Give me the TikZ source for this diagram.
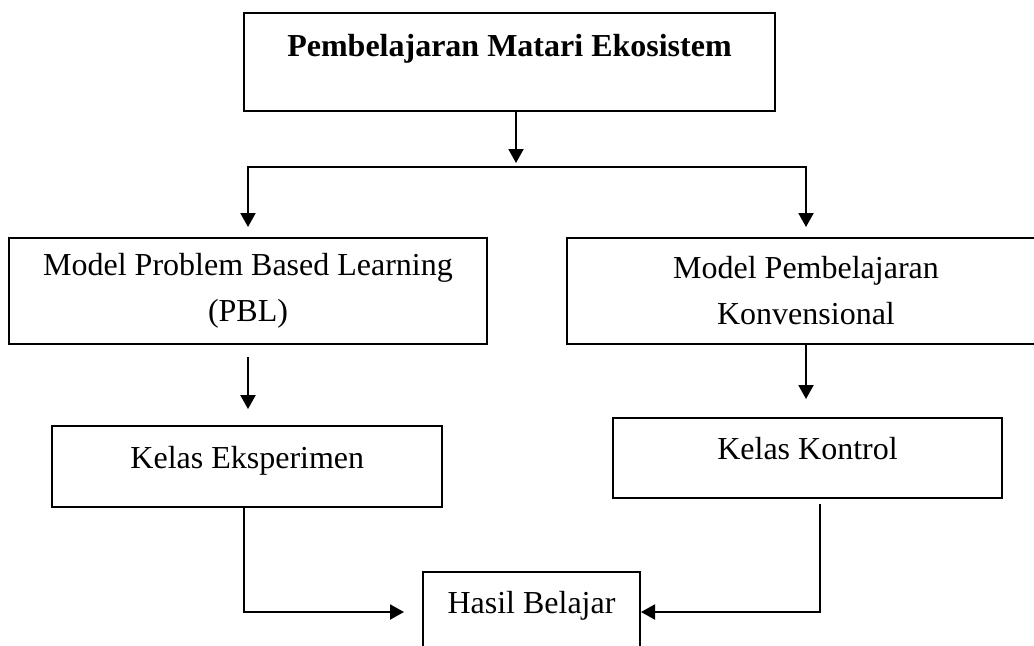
\documentclass[tikz,border=0pt]{standalone}
\usepackage{fontspec}
\setmainfont{Liberation Serif}
\usetikzlibrary{arrows.meta}
\tikzset{
  flowBox/.style={draw, line width=1pt, inner sep=0pt, align=center, font=\fontsize{16}{23}\selectfont},
  flowArrow/.style={line width=1pt, -{Triangle[length=7pt,width=7.5pt]}}
}

\begin{document}
\begin{tikzpicture}[x=0.5pt,y=-0.5pt]
  \useasboundingbox (0,0) rectangle (1034,645);
  \clip (0,0) rectangle (1034,645);
  \node[flowBox, minimum width=265.5pt, minimum height=49pt, text height=11pt, text depth=17pt] (materi) at (509.5,62) {\textbf{Pembelajaran Matari Ekosistem}};
  \node[flowBox, minimum width=239pt, minimum height=53pt] (pbl) at (248,291) {Model Problem Based Learning\\(PBL)};
  \node[flowBox, minimum width=239pt, minimum height=53pt] (konv) at (806,291) {Model Pembelajaran\\Konvensional};
  \node[flowBox, minimum width=195pt, minimum height=40.3pt, text height=11pt, text depth=9.4pt] (eksp) at (247.3,466.4) {Kelas Eksperimen};
  \node[flowBox, minimum width=194.5pt, minimum height=40pt, text height=11pt, text depth=9.5pt] (kontrol) at (807.5,458) {Kelas Kontrol};
  \node[flowBox, minimum width=108.5pt, minimum height=40pt, text height=11pt, text depth=10pt] (hasil) at (531.5,612) {Hasil Belajar};
  \coordinate (cabang) at (516,167);
  \draw[flowArrow, shorten >=2pt] (materi.south -| cabang) -- (cabang);
  \draw[flowArrow, shorten >=5pt] (cabang) -| (pbl.north);
  \draw[flowArrow, shorten >=5pt] (cabang) -| (konv.north);
  \draw[flowArrow, shorten <=6pt, shorten >=8pt] (pbl.south) -- (pbl.south |- eksp.north);
  \draw[flowArrow, shorten >=9pt] (konv.south) -- (konv.south |- kontrol.north);
  \draw[flowArrow, shorten >=9pt] ([xshift=-1.5pt]eksp.south) |- (hasil.west);
  \draw[flowArrow, shorten <=2.5pt] ([xshift=6.25pt]kontrol.south) |- (hasil.east);
\end{tikzpicture}
\end{document}
